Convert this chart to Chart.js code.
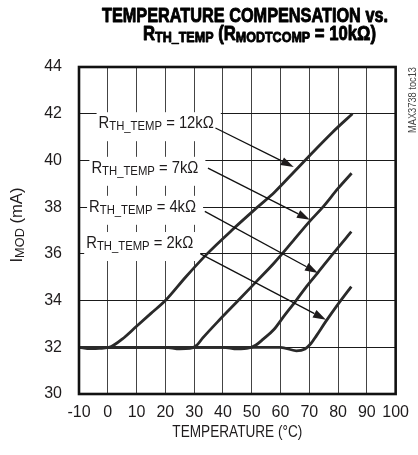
<!DOCTYPE html>
<html><head><meta charset="utf-8">
<script src="https://cdn.jsdelivr.net/npm/chart.js@4.4.1/dist/chart.umd.min.js"></script>
<style>html,body{margin:0;padding:0;background:#fff}#wrap{width:418px;height:455px;position:relative}</style>
</head><body><div id="wrap"><canvas id="c" width="418" height="455"></canvas></div>
<script>
// ---- data ----
const xTicks = [-10, 0, 10, 20, 30, 40, 50, 60, 70, 80, 90, 100];
const yTicks = [30, 32, 34, 36, 38, 40, 42, 44];
const seriesNames = ['12kΩ', '7kΩ', '4kΩ', '2kΩ'];
const temp12k = [-10, -6, -3, 1, 5, 10, 15, 20, 27, 34.5, 43, 52, 58, 65, 72, 78, 85];
const imod12k = [32, 31.94, 31.95, 32.02, 32.35, 32.9, 33.45, 34.0, 35.0, 36.0, 37.0, 38.0, 38.65, 39.55, 40.45, 41.2, 42.0];
const temp7k = [-10, 20, 25, 28.5, 31, 33, 39, 45.3, 51.5, 57.7, 64, 70.2, 74.7, 80, 84.7];
const imod7k = [32, 32, 31.93, 31.95, 32.1, 32.4, 33.2, 34.0, 34.8, 35.6, 36.5, 37.4, 38.0, 38.8, 39.45];
const temp4k = [-10, 40, 45, 49, 51.5, 54, 57.7, 61, 65.4, 69, 73, 78.2, 84.6];
const imod4k = [32, 32, 31.93, 31.97, 32.1, 32.35, 32.76, 33.3, 34.0, 34.6, 35.2, 36.0, 36.95];
const temp2k = [-10, 60, 65.5, 68.5, 70.5, 72.5, 75.7, 80, 84.6];
const imod2k = [32, 32, 31.85, 31.93, 32.15, 32.5, 33.1, 33.85, 34.6];

const seriesTemps = [temp12k, temp7k, temp4k, temp2k];
const seriesImod = [imod12k, imod7k, imod4k, imod2k];

// annotation anchors in data units: label text start, arrow start, arrow tip
const labelX = [-3.2, -5.7, -6.5, -7.5];
const labelY = [41.38, 39.47, 37.80, 36.25];
const arrowFromX = [37.4, 34.8, 33.7, 32.2];
const arrowFromY = [41.39, 39.67, 37.82, 36.0];
const arrowToX = [64.6, 70.2, 73.0, 75.8];
const arrowToY = [39.72, 37.46, 35.18, 33.18];

const FAMS = '"Liberation Sans", Arial, Helvetica, sans-serif';
const INK = '#1e1b1c';

function runsWidth(ctx, runs){let w=0;for(const r of runs){ctx.font=r.font;w+=ctx.measureText(r.t).width;}return w;}
// draw text runs condensed horizontally by sx, starting at x (baseline y)
function drawRuns(ctx, runs, x, y, sx, heavy){
  ctx.save(); ctx.translate(x,y); ctx.scale(sx,1);
  let cx=0;
  for(const r of runs){
    ctx.font=r.font;
    ctx.fillText(r.t,cx,(r.dy||0));
    if(heavy){ctx.lineWidth=heavy; ctx.strokeStyle=ctx.fillStyle; ctx.lineJoin='round'; ctx.strokeText(r.t,cx,(r.dy||0));}
    cx+=ctx.measureText(r.t).width;
  }
  ctx.restore();
  return cx*sx;
}
const LSX = 0.87; // condensation of annotation labels
function labelRuns(name){
  return [
    {t:'R', font:'17px '+FAMS},
    {t:'TH_TEMP', font:'13px '+FAMS, dy:2},
    {t:' = '+name, font:'17px '+FAMS}
  ];
}

const deco = {
  id:'deco',
  beforeDatasetsDraw(chart){
    const ctx=chart.ctx, xs=chart.scales.x, ys=chart.scales.y;
    ctx.save();
    ctx.fillStyle='#fff';
    seriesNames.forEach((n,i)=>{
      const x=xs.getPixelForValue(labelX[i]), y=ys.getPixelForValue(labelY[i]);
      const w=runsWidth(ctx,labelRuns(n))*LSX;
      ctx.fillRect(x-2, y-16, w+9, 29);
    });
    ctx.restore();
  },
  afterDatasetsDraw(chart){
    const ctx=chart.ctx, xs=chart.scales.x, ys=chart.scales.y, a=chart.chartArea;
    ctx.save();
    ctx.fillStyle=INK; ctx.strokeStyle='#111';
    ctx.textBaseline='alphabetic'; ctx.textAlign='left';
    seriesNames.forEach((n,i)=>{
      const x=xs.getPixelForValue(labelX[i]), y=ys.getPixelForValue(labelY[i]);
      drawRuns(ctx,labelRuns(n),x,y,LSX);
      const x0=xs.getPixelForValue(arrowFromX[i]), y0=ys.getPixelForValue(arrowFromY[i]);
      const x1=xs.getPixelForValue(arrowToX[i]), y1=ys.getPixelForValue(arrowToY[i]);
      const ang=Math.atan2(y1-y0,x1-x0), L=13, H=4.2;
      const bx=x1-L*Math.cos(ang), by=y1-L*Math.sin(ang);
      ctx.lineWidth=1.3; ctx.strokeStyle='#111';
      ctx.beginPath(); ctx.moveTo(x0,y0); ctx.lineTo(bx,by); ctx.stroke();
      ctx.beginPath(); ctx.moveTo(x1,y1);
      ctx.lineTo(bx+H*Math.sin(ang), by-H*Math.cos(ang));
      ctx.lineTo(bx-H*Math.sin(ang), by+H*Math.cos(ang));
      ctx.closePath(); ctx.fill();
    });
    // plot border
    ctx.lineWidth=2.6; ctx.strokeStyle='#111';
    ctx.strokeRect(a.left, a.top, a.right-a.left, a.bottom-a.top);
    // title (two lines, condensed heavy)
    ctx.fillStyle='#000';
    const t1=[{t:'TEMPERATURE COMPENSATION vs.', font:'bold 20px '+FAMS}];
    let w=runsWidth(ctx,t1), s=286/w; drawRuns(ctx,t1,245-143,21.5,s,0.9);
    const t2=[{t:'R',font:'bold 20px '+FAMS},{t:'TH_TEMP',font:'bold 15px '+FAMS,dy:2},
              {t:' (R',font:'bold 20px '+FAMS},{t:'MODTCOMP',font:'bold 15px '+FAMS,dy:2},
              {t:' = 10kΩ)',font:'bold 20px '+FAMS}];
    w=runsWidth(ctx,t2); s=233/w; drawRuns(ctx,t2,259.5-116.5,39.5,s,0.9);
    // y axis title
    ctx.fillStyle=INK;
    ctx.save();
    ctx.translate(22, 225); ctx.rotate(-Math.PI/2);
    const yt=[{t:'I',font:'17px '+FAMS},{t:'MOD',font:'13px '+FAMS,dy:2},{t:' (mA)',font:'17px '+FAMS}];
    w=runsWidth(ctx,yt); s=75/w; drawRuns(ctx,yt,-37.5,0,s);
    ctx.restore();
    // x axis title
    const xt=[{t:'TEMPERATURE (°C)', font:'16.5px '+FAMS}];
    w=runsWidth(ctx,xt); s=130/w; drawRuns(ctx,xt,(a.left+a.right)/2-65,436.5,s);
    // figure id
    ctx.save();
    ctx.translate(416, 100); ctx.rotate(-Math.PI/2);
    ctx.fillStyle='#444';
    const wm=[{t:'MAX3738 toc13', font:'11px '+FAMS}];
    w=runsWidth(ctx,wm); s=66/w; drawRuns(ctx,wm,-33,0,s);
    ctx.restore();
    ctx.restore();
  }
};

const datasets = seriesNames.map((n,i)=>({
  label: n,
  data: seriesTemps[i].map((t,j)=>({x:t, y:seriesImod[i][j]})),
  borderColor:'#2a2a2a', borderWidth:2.8, pointRadius:0, fill:false,
  cubicInterpolationMode:'monotone'
}));

new Chart(document.getElementById('c').getContext('2d'), {
  type:'line',
  data:{datasets},
  options:{
    responsive:false, animation:false,
    layout:{padding:{top:67, right:13, left:0, bottom:0}},
    plugins:{legend:{display:false}, tooltip:{enabled:false}, title:{display:false}},
    scales:{
      x:{type:'linear', min:-10, max:100,
         afterBuildTicks:s=>{s.ticks=xTicks.map(v=>({value:v}));},
         ticks:{font:{family:FAMS, size:16}, color:INK, padding:9, maxRotation:0, autoSkip:false},
         grid:{color:'#444', lineWidth:1, drawTicks:false}, border:{display:false},
         afterFit:s=>{s.height=61;}},
      y:{type:'linear', min:30, max:44,
         afterBuildTicks:s=>{s.ticks=yTicks.map(v=>({value:v}));},
         ticks:{font:{family:FAMS, size:16}, color:INK, padding:17, autoSkip:false},
         grid:{color:'#1a1a1a', lineWidth:1, drawTicks:false}, border:{display:false},
         afterFit:s=>{s.width=79;}}
    }
  },
  plugins:[deco]
});
</script></body></html>
